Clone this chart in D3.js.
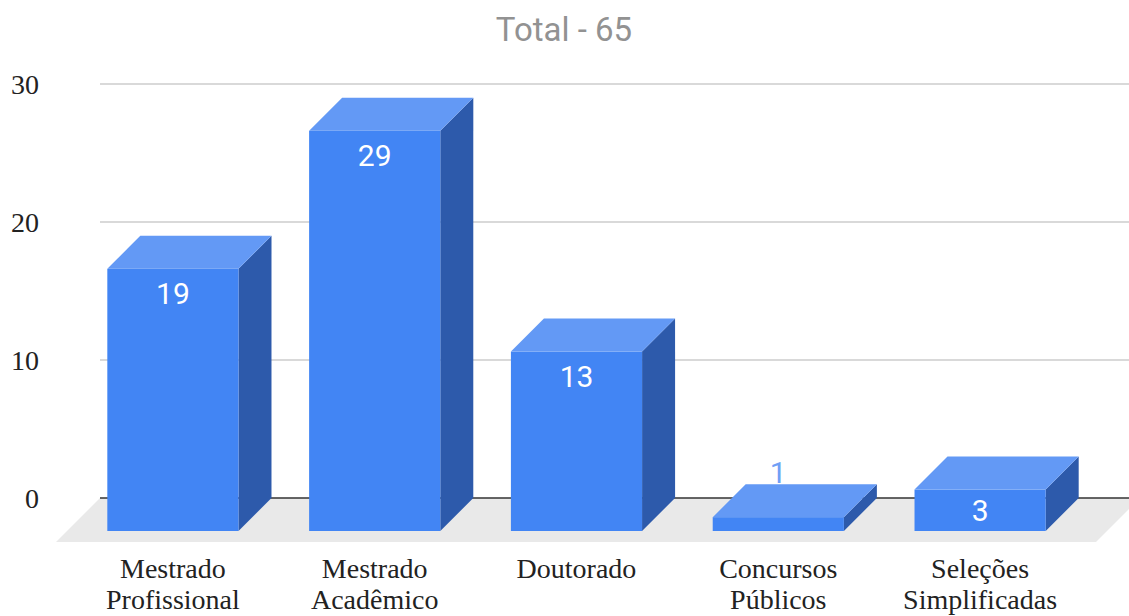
<!DOCTYPE html>
<html>
<head>
<meta charset="utf-8">
<script src="https://cdn.jsdelivr.net/npm/d3@7/dist/d3.min.js"></script>
<style>
  html, body { margin: 0; padding: 0; background: #fff; }
  svg { display: block; }
</style>
</head>
<body>
<script>
const title = "Total - 65";
const categories = [
  ["Mestrado", "Profissional"],
  ["Mestrado", "Acadêmico"],
  ["Doutorado"],
  ["Concursos", "Públicos"],
  ["Seleções", "Simplificadas"]
];
const values = [19, 29, 13, 1, 3];
const yTicks = [0, 10, 20, 30];

const W = 1129, H = 616;
const depth = 33;       // bar 3D depth
const floorDepth = 44;  // floor depth

const svg = d3.select("body").append("svg").attr("width", W).attr("height", H);

// back-plane scale
const y = d3.scaleLinear().domain([0, 30]).range([498, 84]);
// front-plane band scale
const x = d3.scaleBand().domain(d3.range(categories.length))
  .range([72, 1081]).paddingInner(0.35).paddingOuter(0.175);

// title
svg.append("text")
  .attr("x", 564).attr("y", 41)
  .attr("text-anchor", "middle")
  .attr("font-family", "Roboto, Arial, sans-serif")
  .attr("font-size", 33)
  .attr("fill", "#929292")
  .text(title);

// floor
const gx0 = 100, gx1 = 1140;
svg.append("polygon")
  .attr("points", [
    [gx0, y(0)], [gx1, y(0)], [gx1 - floorDepth, y(0) + floorDepth], [gx0 - floorDepth, y(0) + floorDepth]
  ].map(p => p.join(",")).join(" "))
  .attr("fill", "#e9e9e9");

// gridlines
svg.append("g").selectAll("line").data(yTicks.filter(d => d !== 0)).join("line")
  .attr("x1", gx0).attr("x2", W)
  .attr("y1", d => y(d)).attr("y2", d => y(d))
  .attr("stroke", "#cccccc").attr("stroke-width", 1.5);

// zero line
svg.append("line")
  .attr("x1", gx0).attr("x2", W)
  .attr("y1", y(0)).attr("y2", y(0))
  .attr("stroke", "#333").attr("stroke-width", 1.5);

// y tick labels
svg.append("g").selectAll("text").data(yTicks).join("text")
  .attr("x", 39).attr("y", d => y(d) + 10)
  .attr("text-anchor", "end")
  .attr("font-family", "'Liberation Serif', 'Times New Roman', serif")
  .attr("font-size", 28)
  .attr("fill", "#222")
  .text(d => d);

// bars
const bars = svg.append("g").selectAll("g").data(values).join("g");
const yf = v => y(v) + depth; // front-plane y
bars.each(function(v, i) {
  const g = d3.select(this);
  const x0 = x(i), x1 = x(i) + x.bandwidth();
  const yt = yf(v), yb = yf(0);
  // side
  g.append("polygon")
    .attr("points", [[x1, yt], [x1 + depth, yt - depth], [x1 + depth, yb - depth], [x1, yb]].map(p => p.join(",")).join(" "))
    .attr("fill", "#2d5aab");
  // top
  g.append("polygon")
    .attr("points", [[x0, yt], [x0 + depth, yt - depth], [x1 + depth, yt - depth], [x1, yt]].map(p => p.join(",")).join(" "))
    .attr("fill", "#6399f5");
  // front
  g.append("rect")
    .attr("x", x0).attr("y", yt)
    .attr("width", x.bandwidth()).attr("height", yb - yt)
    .attr("fill", "#4285f4");
  // label
  const h = yb - yt;
  let ly, col;
  if (h >= 60) { ly = yt + 35; col = "#ffffff"; }
  else if (h >= 30) { ly = (yt + yb) / 2 + 11; col = "#ffffff"; }
  else { ly = yt - depth - 1; col = "#6f9ff5"; }
  g.append("text")
    .attr("x", (x0 + x1) / 2).attr("y", ly)
    .attr("text-anchor", "middle")
    .attr("font-family", "Roboto, Arial, sans-serif")
    .attr("font-size", 30)
    .attr("fill", col)
    .text(v);
});

// category labels
const cat = svg.append("g").selectAll("text").data(categories).join("text")
  .attr("text-anchor", "middle")
  .attr("font-family", "'Liberation Serif', 'Times New Roman', serif")
  .attr("font-size", 28)
  .attr("fill", "#222");
cat.each(function(lines, i) {
  const t = d3.select(this);
  lines.forEach((l, j) => {
    t.append("tspan")
      .attr("x", x(i) + x.bandwidth() / 2)
      .attr("y", 578 + j * 31)
      .text(l);
  });
});
</script>
</body>
</html>
